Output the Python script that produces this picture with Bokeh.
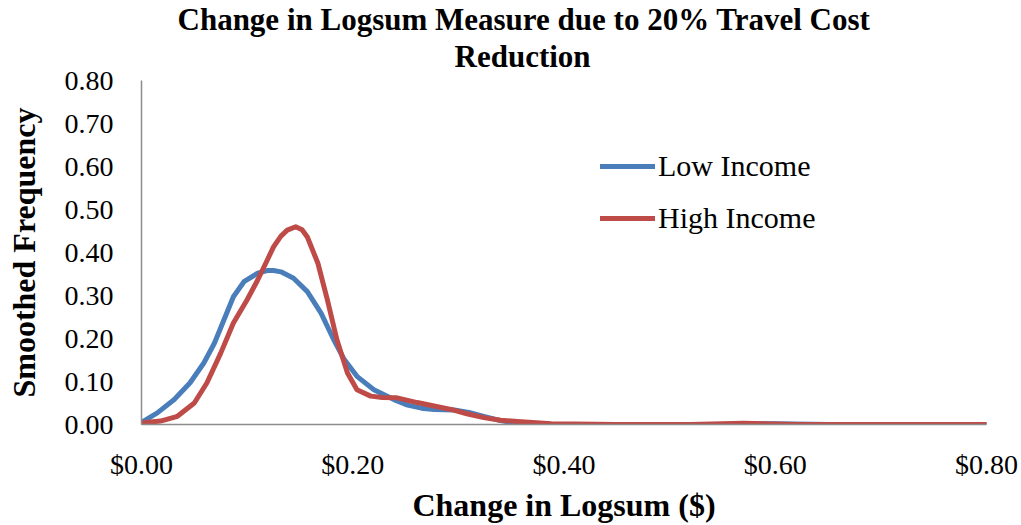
from bokeh.plotting import figure
from bokeh.models import Range1d, Title, Legend, LegendItem, NumeralTickFormatter, FixedTicker
from bokeh.embed import file_html
from bokeh.resources import INLINE

# Smoothed frequency of the logsum change, by income group
low_x = [0.0, 0.002, 0.015, 0.031, 0.046, 0.059, 0.069, 0.078, 0.087, 0.097, 0.110,
         0.119, 0.125, 0.132, 0.144, 0.157, 0.170, 0.182, 0.192, 0.204, 0.220, 0.239,
         0.252, 0.265, 0.277, 0.296, 0.310, 0.324, 0.340, 0.356, 0.380, 0.45, 0.55,
         0.60, 0.65, 0.80]
low_y = [0.0, 0.008, 0.027, 0.058, 0.097, 0.143, 0.189, 0.243, 0.297, 0.332, 0.352,
         0.358, 0.358, 0.355, 0.340, 0.309, 0.259, 0.197, 0.151, 0.112, 0.081, 0.058,
         0.045, 0.038, 0.035, 0.034, 0.028, 0.019, 0.009, 0.002, 0.0, 0.0, 0.0,
         0.002, 0.0, 0.0]

high_x = [0.0, 0.002, 0.018, 0.034, 0.050, 0.062, 0.075, 0.087, 0.100, 0.110, 0.119,
          0.125, 0.132, 0.138, 0.146, 0.152, 0.157, 0.167, 0.176, 0.185, 0.195, 0.204,
          0.217, 0.228, 0.242, 0.261, 0.277, 0.293, 0.308, 0.324, 0.340, 0.356, 0.388,
          0.45, 0.52, 0.57, 0.62, 0.70, 0.80]
high_y = [0.0, 0.004, 0.008, 0.019, 0.050, 0.097, 0.166, 0.236, 0.290, 0.336, 0.382,
          0.413, 0.438, 0.452, 0.460, 0.453, 0.436, 0.375, 0.290, 0.197, 0.120, 0.081,
          0.066, 0.063, 0.062, 0.051, 0.043, 0.035, 0.025, 0.016, 0.010, 0.007, 0.002,
          0.0, 0.0, 0.003, 0.0, 0.0, 0.0]

x_ticks = [0.0, 0.2, 0.4, 0.6, 0.8]
y_ticks = [0.0, 0.1, 0.2, 0.3, 0.4, 0.5, 0.6, 0.7, 0.8]

SERIF = "Liberation Serif"
BLUE = "#4A7EBB"
RED = "#BE4B48"
AXIS_GRAY = "#8C8C8C"

p = figure(width=1021, height=525, output_backend="svg", toolbar_location=None,
           x_range=Range1d(0, 0.8), y_range=Range1d(0, 0.8),
           min_border_left=141, min_border_right=35, min_border_top=80,
           min_border_bottom=100)

p.outline_line_color = None
p.xgrid.grid_line_color = None
p.ygrid.grid_line_color = None
p.background_fill_color = "white"
p.border_fill_color = "white"

r_low = p.line(low_x, low_y, line_color=BLUE, line_width=5, line_join="round", line_cap="round")
r_high = p.line(high_x, high_y, line_color=RED, line_width=5, line_join="round", line_cap="round")

# axes
for ax in (p.xaxis[0], p.yaxis[0]):
    ax.axis_line_color = AXIS_GRAY
    ax.axis_line_width = 1.5
    ax.major_tick_line_color = None
    ax.minor_tick_line_color = None
    ax.major_label_text_font = SERIF
    ax.major_label_text_font_size = "28px"
    ax.major_label_text_color = "#000000"
    ax.axis_label_text_font = SERIF
    ax.axis_label_text_font_size = "32px"
    ax.axis_label_text_font_style = "bold"
    ax.axis_label_text_color = "#000000"

p.xaxis.ticker = FixedTicker(ticks=x_ticks)
p.yaxis.ticker = FixedTicker(ticks=y_ticks)
p.xaxis.formatter = NumeralTickFormatter(format="$0.00")
p.yaxis.formatter = NumeralTickFormatter(format="0.00")
p.xaxis.axis_label = "Change in Logsum ($)"
p.yaxis.axis_label = "Smoothed Frequency"
p.xaxis.major_label_standoff = 18
p.xaxis.axis_label_standoff = 4
p.yaxis.major_label_standoff = 22
p.yaxis.axis_label_standoff = 20

# two-line title, outermost line added last
p.add_layout(Title(text="Reduction", align="left", offset=313, standoff=14,
                   text_font=SERIF, text_font_size="31px", text_font_style="bold",
                   text_color="#000000"), "above")
p.add_layout(Title(text="Change in Logsum Measure due to 20% Travel Cost", align="left",
                   offset=36, standoff=-14,
                   text_font=SERIF, text_font_size="31px", text_font_style="bold",
                   text_color="#000000"), "above")

legend = Legend(items=[LegendItem(label="Low Income", renderers=[r_low]),
                       LegendItem(label="High Income", renderers=[r_high])],
                location=(459, 189))
legend.label_text_font = SERIF
legend.label_text_font_size = "30px"
legend.label_text_color = "#000000"
legend.glyph_width = 55
legend.glyph_height = 30
legend.label_height = 30
legend.label_standoff = 3
legend.spacing = 18
legend.padding = 0
legend.margin = 0
legend.border_line_color = None
legend.background_fill_alpha = 0
p.add_layout(legend)

open("out.html", "w").write(file_html(p, INLINE))
